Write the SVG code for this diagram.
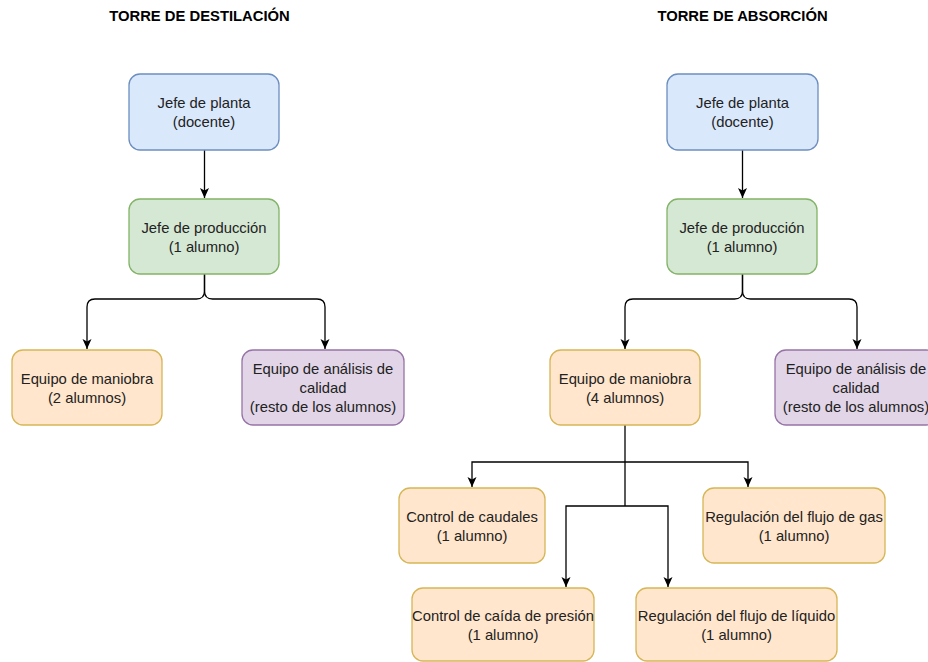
<svg xmlns="http://www.w3.org/2000/svg" width="928" height="662" viewBox="0 0 928 662">
<style>
text{font-family:"Liberation Sans",Arial,sans-serif;font-size:14.8px;fill:#222;text-anchor:middle}
.title{font-weight:bold;fill:#000}
.blue{fill:#dae8fc;stroke:#6c8ebf;stroke-width:1.3}
.green{fill:#d5e8d4;stroke:#82b366;stroke-width:1.3}
.orange{fill:#ffe6cc;stroke:#d6b656;stroke-width:1.3}
.purple{fill:#e1d5e7;stroke:#9673a6;stroke-width:1.3}
.edge{fill:none;stroke:#000;stroke-width:1.3;marker-end:url(#arr)}
</style>
<defs>
<marker id="arr" markerUnits="userSpaceOnUse" markerWidth="12" markerHeight="12" viewBox="0 0 12 12" refX="10" refY="6" orient="auto">
<path d="M0,1.5 L10,6 L0,10.5 L2.5,6 Z" fill="#000"/>
</marker>
</defs>
<rect width="928" height="662" fill="#fff"/>
<text class="title" x="199.5" y="21">TORRE DE DESTILACIÓN</text>
<text class="title" x="742.5" y="21">TORRE DE ABSORCIÓN</text>
<g id="connectors">
<path class="edge" d="M204.5,150 V198"/>
<path class="edge" d="M204.5,274 V291 Q204.5,299 196.5,299 H95 Q87,299 87,307 V349"/>
<path class="edge" d="M204.5,274 V291 Q204.5,299 212.5,299 H317 Q325,299 325,307 V349"/>
<path class="edge" d="M742.5,150 V198"/>
<path class="edge" d="M742.5,274 V291 Q742.5,299 734.5,299 H633 Q625,299 625,307 V349"/>
<path class="edge" d="M742.5,274 V291 Q742.5,299 750.5,299 H849 Q857,299 857,307 V349"/>
<path d="M625,425 V506" fill="none" stroke="#000" stroke-width="1.3"/>
<path class="edge" d="M625,462 H472 V487"/>
<path class="edge" d="M625,462 H748 V487"/>
<path class="edge" d="M625,506 H566 V587"/>
<path class="edge" d="M625,506 H668 V587"/>
</g>
<g id="d-jefe-planta"><rect class="blue" x="129" y="74" width="150" height="76" rx="11"/><text x="204" y="108">Jefe de planta</text><text x="204" y="127">(docente)</text></g>
<g id="d-jefe-produccion"><rect class="green" x="129" y="199" width="150" height="75" rx="11"/><text x="204" y="233">Jefe de producción</text><text x="204" y="252">(1 alumno)</text></g>
<g id="d-maniobra"><rect class="orange" x="12" y="350" width="150" height="75" rx="11"/><text x="87" y="384">Equipo de maniobra</text><text x="87" y="403">(2 alumnos)</text></g>
<g id="d-analisis"><rect class="purple" x="242" y="350" width="162" height="75" rx="11"/><text x="323" y="374">Equipo de análisis de</text><text x="323" y="393">calidad</text><text x="323" y="412">(resto de los alumnos)</text></g>
<g id="a-jefe-planta"><rect class="blue" x="667" y="74" width="151" height="76" rx="11"/><text x="742.5" y="108">Jefe de planta</text><text x="742.5" y="127">(docente)</text></g>
<g id="a-jefe-produccion"><rect class="green" x="667" y="199" width="150" height="75" rx="11"/><text x="742" y="233">Jefe de producción</text><text x="742" y="252">(1 alumno)</text></g>
<g id="a-maniobra"><rect class="orange" x="550" y="350" width="150" height="75" rx="11"/><text x="625" y="384">Equipo de maniobra</text><text x="625" y="403">(4 alumnos)</text></g>
<g id="a-analisis"><rect class="purple" x="775" y="350" width="162" height="75" rx="11"/><text x="856" y="374">Equipo de análisis de</text><text x="856" y="393">calidad</text><text x="856" y="412">(resto de los alumnos)</text></g>
<g id="a-caudales"><rect class="orange" x="399" y="488" width="146" height="75" rx="11"/><text x="472" y="522">Control de caudales</text><text x="472" y="541">(1 alumno)</text></g>
<g id="a-gas"><rect class="orange" x="703" y="488" width="182" height="75" rx="11"/><text x="794" y="522">Regulación del flujo de gas</text><text x="794" y="541">(1 alumno)</text></g>
<g id="a-presion"><rect class="orange" x="412" y="588" width="182" height="73" rx="11"/><text x="503" y="621">Control de caída de presión</text><text x="503" y="640">(1 alumno)</text></g>
<g id="a-liquido"><rect class="orange" x="636" y="588" width="201" height="73" rx="11"/><text x="736.5" y="621">Regulación del flujo de líquido</text><text x="736.5" y="640">(1 alumno)</text></g>
</svg>
